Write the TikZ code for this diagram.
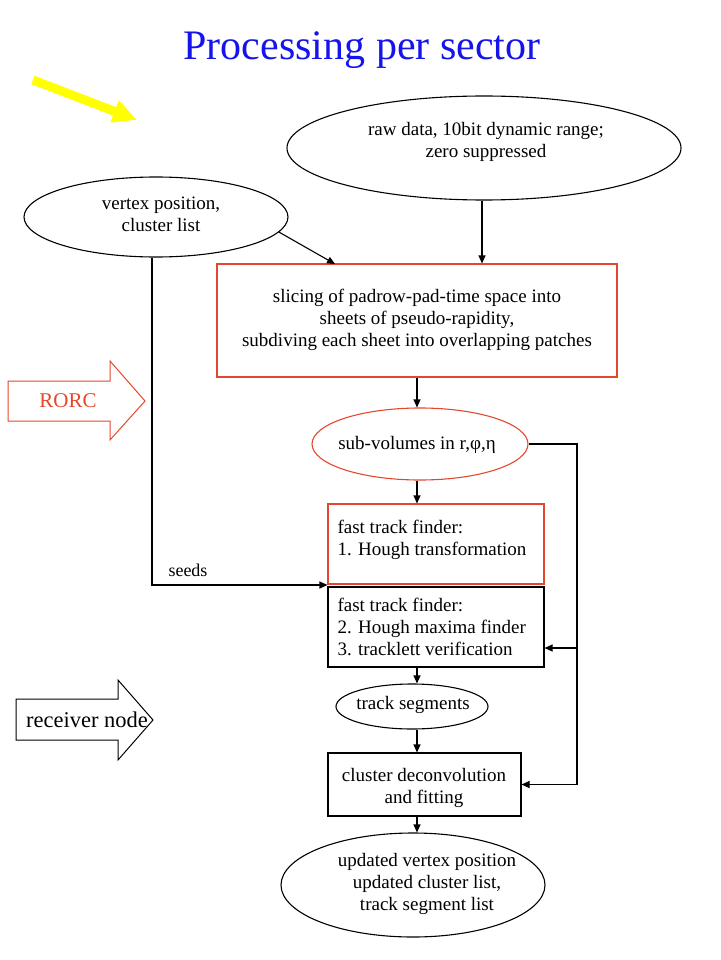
\documentclass[tikz,border=0pt]{standalone}
\usepackage{fontspec}
\setmainfont{Liberation Serif}
\usetikzlibrary{arrows.meta,shapes.geometric}
\definecolor{rred}{RGB}{228,72,44}
\definecolor{tblue}{RGB}{20,20,235}
\definecolor{yarrow}{RGB}{255,255,0}
\begin{document}
\begin{tikzpicture}[x=1pt,y=-1pt,line width=1.1pt,
  arr/.style={-{Triangle[length=8pt,width=7pt]}},
  ell/.style={draw,ellipse,inner sep=0pt},
  boxx/.style={draw,rectangle,inner sep=0pt},
  txt/.style={font=\fontsize{19}{22}\selectfont,align=center,inner sep=0pt},
  bigtxt/.style={font=\fontsize{21}{25}\selectfont,inner sep=0pt}]
\useasboundingbox (0,0) rectangle (720,960);
% title
\node[inner sep=0pt,text=tblue,font=\fontsize{42}{46}\selectfont] (title) at (362,50) {Processing per sector};
% yellow arrow
\coordinate (ya) at (33,80);
\coordinate (yb) at (137,120);
\draw[yarrow,line width=9pt,-{Triangle[length=24pt,width=22pt]}] (ya) -- (yb);
% shapes
\node[ell,minimum width=394pt,minimum height=104pt] (raw) at (484,148) {};
\node[ell,minimum width=264pt,minimum height=80pt] (vert) at (156,217) {};
\node[boxx,draw=rred,minimum width=400pt,minimum height=113pt] (slice) at (417,320.5) {};
\node[ell,draw=rred,minimum width=216pt,minimum height=72pt] (sub) at (420,444) {};
\node[boxx,draw=rred,minimum width=216pt,minimum height=80pt] (box1) at (436,544) {};
\node[boxx,minimum width=216pt,minimum height=80pt] (box2) at (436,627) {};
\node[ell,minimum width=152pt,minimum height=45pt] (track) at (412,706.5) {};
\node[boxx,minimum width=193pt,minimum height=63pt] (clus) at (424.5,784.5) {};
\node[ell,minimum width=264pt,minimum height=104pt] (fin) at (413,885) {};
% texts
\node[txt] (rawt) at (486,141.5) {raw data, 10bit dynamic range;\\zero suppressed};
\node[txt] (vertt) at (161,214) {vertex position,\\cluster list};
\node[txt] (slicet) at (417,320) {slicing of padrow-pad-time space into\\sheets of pseudo-rapidity,\\subdiving each sheet into overlapping patches};
\node[txt] (subt) at (417,445) {sub-volumes in r,φ,η};
\node[txt,align=left,anchor=west] (box1t) at (337,540) {fast track finder:\\1. Hough transformation};
\node[txt,align=left,anchor=west] (box2t) at (337,626.5) {fast track finder:\\2. Hough maxima finder\\3. tracklett verification};
\node[txt] (trackt) at (413,705) {track segments};
\node[txt] (clust) at (424,788) {cluster deconvolution\\and fitting};
\node[txt] (fint) at (427,883.5) {updated vertex position\\updated cluster list,\\track segment list};
\node[inner sep=0pt,font=\fontsize{18}{21}\selectfont] (seedst) at (188,570) {seeds};
% side arrows
\draw[rred,line width=1pt] (8,381) -- (110,381) -- (110,361) -- (145,401) -- (110,440) -- (110,421) -- (8,421) -- cycle;
\node[bigtxt,text=rred] (rorc) at (68,401) {RORC};
\draw[line width=1pt] (16,699) -- (118,699) -- (118,680) -- (153,720) -- (118,760) -- (118,740) -- (16,740) -- cycle;
\node[inner sep=0pt,font=\fontsize{22.5}{26}\selectfont] (recv) at (87,720) {receiver node};
% connectors
\coordinate (slin) at (335,264);
\draw[arr] (vert.-7) -- (slin);
\coordinate (rawout) at (482,0);
\draw[arr] (raw.south -| rawout) -- (slice.north -| rawout);
\coordinate (spine) at (417,0);
\draw[arr] (slice.south -| spine) -- (sub.north -| spine);
\draw[arr] (sub.south -| spine) -- (box1.north -| spine);
\draw[arr] (box2.south -| spine) -- (track.north -| spine);
\draw[arr] (track.south -| spine) -- (clus.north -| spine);
\draw[arr] (clus.south -| spine) -- (fin.north -| spine);
\coordinate (fb) at (577,0);
\draw (sub.east) -- (sub.east -| fb) -- (clus.east -| fb);
\draw[arr] (clus.east -| fb) -- (clus.east);
\coordinate (fb2) at (577,648);
\draw[arr] (fb2) -- (box2.east |- fb2);
\coordinate (sd) at (152,585);
\draw[arr] (vert.south -| sd) -- (sd) -- (box1.south west |- sd);
\end{tikzpicture}
\end{document}
